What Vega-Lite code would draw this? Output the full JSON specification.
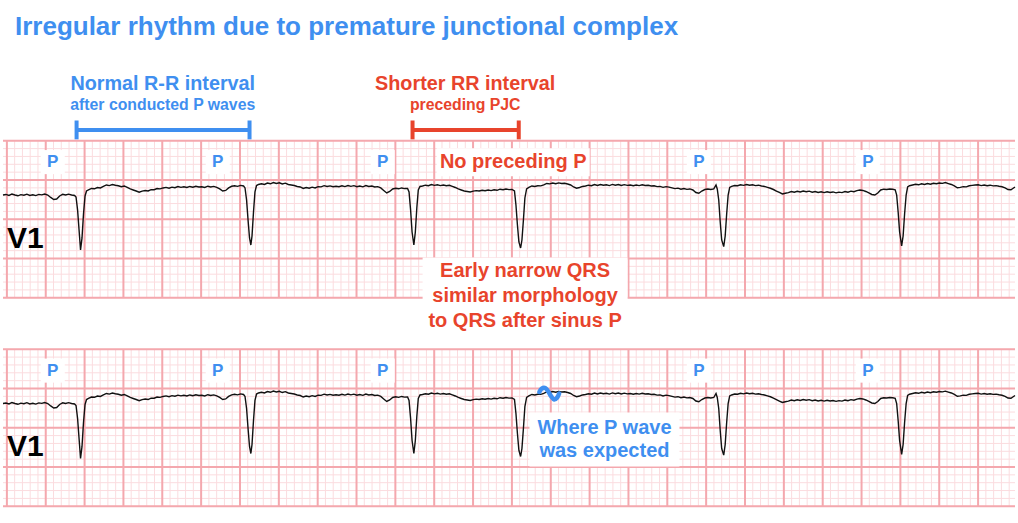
{
"$schema":"https://vega.github.io/schema/vega-lite/v6.json",
"width":1018,"height":523,
"autosize":{"type":"fit","contains":"padding"},
"padding":0,
"background":"white",
"config":{"view":{"stroke":null}},
"datasets":{
"vx":[{"x":0},{"x":1},{"x":2},{"x":3},{"x":4},{"x":5},{"x":6},{"x":7},{"x":8},{"x":9},{"x":10},{"x":11},{"x":12},{"x":13},{"x":14},{"x":15},{"x":16},{"x":17},{"x":18},{"x":19},{"x":20},{"x":21},{"x":22},{"x":23},{"x":24},{"x":25},{"x":26},{"x":27},{"x":28},{"x":29},{"x":30},{"x":31},{"x":32},{"x":33},{"x":34},{"x":35},{"x":36},{"x":37},{"x":38},{"x":39},{"x":40},{"x":41},{"x":42},{"x":43},{"x":44},{"x":45},{"x":46},{"x":47},{"x":48},{"x":49},{"x":50},{"x":51},{"x":52},{"x":53},{"x":54},{"x":55},{"x":56},{"x":57},{"x":58},{"x":59},{"x":60},{"x":61},{"x":62},{"x":63},{"x":64},{"x":65},{"x":66},{"x":67},{"x":68},{"x":69},{"x":70},{"x":71},{"x":72},{"x":73},{"x":74},{"x":75},{"x":76},{"x":77},{"x":78},{"x":79},{"x":80},{"x":81},{"x":82},{"x":83},{"x":84},{"x":85},{"x":86},{"x":87},{"x":88},{"x":89},{"x":90},{"x":91},{"x":92},{"x":93},{"x":94},{"x":95},{"x":96},{"x":97},{"x":98},{"x":99},{"x":100},{"x":101},{"x":102},{"x":103},{"x":104},{"x":105},{"x":106},{"x":107},{"x":108},{"x":109},{"x":110},{"x":111},{"x":112},{"x":113},{"x":114},{"x":115},{"x":116},{"x":117},{"x":118},{"x":119},{"x":120},{"x":121},{"x":122},{"x":123},{"x":124},{"x":125},{"x":126},{"x":127},{"x":128},{"x":129}],
"hy":[{"y":0},{"y":1},{"y":2},{"y":3},{"y":4},{"y":5},{"y":6},{"y":7},{"y":8},{"y":9},{"y":10},{"y":11},{"y":12},{"y":13},{"y":14},{"y":15},{"y":16},{"y":17},{"y":18},{"y":19},{"y":20}],
"ps":[{"x":5.90,"y":2.72,"label":"P"},{"x":27.14,"y":2.72,"label":"P"},{"x":48.37,"y":2.72,"label":"P"},{"x":89.06,"y":2.72,"label":"P"},{"x":110.81,"y":2.72,"label":"P"}],
"brackets":[{"grp":"normal","x":8.97,"x2":31.23},{"grp":"pjc","x":52.21,"x2":65.88}],
"ecg":[{"x":-0.5,"v":-0.115},{"x":-0.12,"v":-0.108},{"x":0.27,"v":-0.121},{"x":0.65,"v":-0.102},{"x":1.04,"v":-0.115},{"x":1.42,"v":-0.125},{"x":1.80,"v":-0.110},{"x":2.19,"v":-0.117},{"x":2.57,"v":-0.104},{"x":2.95,"v":-0.120},{"x":3.34,"v":-0.112},{"x":3.72,"v":-0.122},{"x":4.11,"v":-0.107},{"x":4.49,"v":-0.113},{"x":4.87,"v":-0.102},{"x":5.26,"v":-0.115},{"x":5.64,"v":-0.146},{"x":6.03,"v":-0.172},{"x":6.41,"v":-0.166},{"x":6.79,"v":-0.127},{"x":7.18,"v":-0.106},{"x":7.56,"v":-0.115},{"x":7.94,"v":-0.104},{"x":8.33,"v":-0.115},{"x":8.71,"v":-0.121},{"x":8.90,"v":-0.140},{"x":9.10,"v":-0.306},{"x":9.29,"v":-0.561},{"x":9.48,"v":-0.815},{"x":9.67,"v":-0.662},{"x":9.86,"v":-0.357},{"x":10.06,"v":-0.127},{"x":10.25,"v":-0.064},{"x":10.50,"v":-0.051},{"x":10.89,"v":-0.032},{"x":11.27,"v":-0.036},{"x":11.65,"v":-0.020},{"x":12.04,"v":-0.025},{"x":12.42,"v":-0.006},{"x":12.81,"v":0.013},{"x":13.19,"v":0.005},{"x":13.57,"v":0.019},{"x":13.96,"v":0.010},{"x":14.34,"v":0.003},{"x":14.73,"v":-0.010},{"x":15.11,"v":0},{"x":15.49,"v":-0.019},{"x":15.88,"v":-0.038},{"x":16.26,"v":-0.051},{"x":16.64,"v":-0.064},{"x":17.03,"v":-0.080},{"x":17.41,"v":-0.066},{"x":17.80,"v":-0.057},{"x":18.18,"v":-0.064},{"x":18.56,"v":-0.046},{"x":18.95,"v":-0.048},{"x":19.33,"v":-0.032},{"x":19.72,"v":-0.037},{"x":20.10,"v":-0.025},{"x":20.48,"v":-0.018},{"x":20.87,"v":-0.029},{"x":21.25,"v":-0.015},{"x":21.63,"v":-0.022},{"x":22.02,"v":-0.008},{"x":22.40,"v":-0.018},{"x":22.79,"v":-0.010},{"x":23.17,"v":-0.019},{"x":23.55,"v":-0.006},{"x":23.94,"v":-0.015},{"x":24.32,"v":-0.004},{"x":24.71,"v":-0.013},{"x":25.09,"v":-0.010},{"x":25.47,"v":-0.019},{"x":25.86,"v":-0.003},{"x":26.24,"v":-0.013},{"x":26.62,"v":-0.005},{"x":27.01,"v":-0.018},{"x":27.39,"v":-0.038},{"x":27.78,"v":-0.064},{"x":28.16,"v":-0.057},{"x":28.54,"v":-0.025},{"x":28.93,"v":-0.004},{"x":29.31,"v":0.003},{"x":29.69,"v":-0.005},{"x":30.08,"v":0.008},{"x":30.46,"v":0},{"x":30.65,"v":-0.025},{"x":30.85,"v":-0.178},{"x":31.04,"v":-0.433},{"x":31.23,"v":-0.662},{"x":31.40,"v":-0.752},{"x":31.55,"v":-0.637},{"x":31.74,"v":-0.331},{"x":31.93,"v":-0.076},{"x":32.13,"v":0.006},{"x":32.38,"v":0.019},{"x":32.77,"v":0.028},{"x":33.15,"v":0.020},{"x":33.53,"v":0.038},{"x":33.92,"v":0.028},{"x":34.30,"v":0.043},{"x":34.68,"v":0.032},{"x":35.07,"v":0.041},{"x":35.45,"v":0.025},{"x":35.84,"v":0.036},{"x":36.22,"v":0.019},{"x":36.60,"v":0.013},{"x":36.99,"v":0.006},{"x":37.37,"v":-0.006},{"x":37.76,"v":-0.013},{"x":38.14,"v":-0.032},{"x":38.52,"v":-0.019},{"x":38.91,"v":-0.029},{"x":39.29,"v":-0.015},{"x":39.67,"v":-0.025},{"x":40.06,"v":-0.008},{"x":40.44,"v":-0.011},{"x":40.83,"v":0.004},{"x":41.21,"v":-0.006},{"x":41.59,"v":0.001},{"x":41.98,"v":-0.010},{"x":42.36,"v":-0.003},{"x":42.74,"v":-0.010},{"x":43.13,"v":0.003},{"x":43.51,"v":-0.008},{"x":43.90,"v":0.006},{"x":44.28,"v":-0.005},{"x":44.66,"v":0.004},{"x":45.05,"v":-0.010},{"x":45.43,"v":0},{"x":45.82,"v":-0.011},{"x":46.20,"v":0.005},{"x":46.58,"v":-0.006},{"x":46.97,"v":0},{"x":47.35,"v":-0.013},{"x":47.73,"v":-0.008},{"x":48.12,"v":-0.025},{"x":48.50,"v":-0.057},{"x":48.89,"v":-0.089},{"x":49.27,"v":-0.070},{"x":49.65,"v":-0.038},{"x":50.04,"v":-0.029},{"x":50.42,"v":-0.036},{"x":50.81,"v":-0.025},{"x":51.19,"v":-0.033},{"x":51.57,"v":-0.032},{"x":51.76,"v":-0.076},{"x":51.96,"v":-0.306},{"x":52.15,"v":-0.586},{"x":52.38,"v":-0.752},{"x":52.57,"v":-0.586},{"x":52.76,"v":-0.280},{"x":52.95,"v":-0.051},{"x":53.17,"v":-0.006},{"x":53.49,"v":0},{"x":53.88,"v":0.010},{"x":54.26,"v":0.003},{"x":54.64,"v":0.018},{"x":55.03,"v":0.008},{"x":55.41,"v":0.015},{"x":55.79,"v":0.005},{"x":56.18,"v":0.013},{"x":56.56,"v":0.003},{"x":56.95,"v":0.009},{"x":57.33,"v":-0.005},{"x":57.71,"v":-0.019},{"x":58.10,"v":-0.038},{"x":58.48,"v":-0.051},{"x":58.87,"v":-0.064},{"x":59.25,"v":-0.070},{"x":59.63,"v":-0.076},{"x":60.02,"v":-0.066},{"x":60.40,"v":-0.059},{"x":60.78,"v":-0.064},{"x":61.17,"v":-0.054},{"x":61.55,"v":-0.061},{"x":61.94,"v":-0.051},{"x":62.32,"v":-0.059},{"x":62.70,"v":-0.048},{"x":63.09,"v":-0.055},{"x":63.47,"v":-0.041},{"x":63.86,"v":-0.048},{"x":64.24,"v":-0.038},{"x":64.62,"v":-0.046},{"x":65.01,"v":-0.045},{"x":65.33,"v":-0.064},{"x":65.52,"v":-0.242},{"x":65.71,"v":-0.497},{"x":65.90,"v":-0.713},{"x":66.12,"v":-0.790},{"x":66.29,"v":-0.688},{"x":66.48,"v":-0.433},{"x":66.67,"v":-0.153},{"x":66.89,"v":-0.038},{"x":67.18,"v":-0.019},{"x":67.57,"v":0},{"x":67.95,"v":-0.006},{"x":68.33,"v":0.003},{"x":68.72,"v":0.001},{"x":69.10,"v":0.013},{"x":69.48,"v":0.032},{"x":69.87,"v":0.027},{"x":70.25,"v":0.038},{"x":70.64,"v":0.028},{"x":71.02,"v":0.039},{"x":71.40,"v":0.031},{"x":71.79,"v":0.034},{"x":72.17,"v":0.025},{"x":72.56,"v":0.013},{"x":72.94,"v":-0.013},{"x":73.32,"v":-0.029},{"x":73.71,"v":-0.019},{"x":74.09,"v":-0.006},{"x":74.47,"v":0},{"x":74.86,"v":0.010},{"x":75.24,"v":0.003},{"x":75.63,"v":0.018},{"x":76.01,"v":0.006},{"x":76.39,"v":0.019},{"x":76.78,"v":0.009},{"x":77.16,"v":0.015},{"x":77.55,"v":0.005},{"x":77.93,"v":0.020},{"x":78.31,"v":0.010},{"x":78.70,"v":0.018},{"x":79.08,"v":0.006},{"x":79.46,"v":0.017},{"x":79.85,"v":0.008},{"x":80.23,"v":0.013},{"x":80.62,"v":0.003},{"x":81.00,"v":0.013},{"x":81.38,"v":0.005},{"x":81.77,"v":0.015},{"x":82.15,"v":0.006},{"x":82.54,"v":0.009},{"x":82.92,"v":0},{"x":83.30,"v":0.003},{"x":83.69,"v":-0.008},{"x":84.07,"v":-0.005},{"x":84.45,"v":-0.018},{"x":84.84,"v":-0.008},{"x":85.22,"v":-0.015},{"x":85.61,"v":-0.024},{"x":85.99,"v":-0.033},{"x":86.37,"v":-0.028},{"x":86.76,"v":-0.041},{"x":87.14,"v":-0.032},{"x":87.52,"v":-0.043},{"x":87.91,"v":-0.038},{"x":88.29,"v":-0.051},{"x":88.68,"v":-0.083},{"x":89.06,"v":-0.093},{"x":89.44,"v":-0.064},{"x":89.83,"v":-0.045},{"x":90.21,"v":-0.038},{"x":90.60,"v":-0.045},{"x":90.98,"v":-0.038},{"x":91.27,"v":0.013},{"x":91.43,"v":-0.038},{"x":91.62,"v":-0.178},{"x":91.81,"v":-0.459},{"x":92.00,"v":-0.688},{"x":92.26,"v":-0.773},{"x":92.45,"v":-0.637},{"x":92.64,"v":-0.357},{"x":92.83,"v":-0.115},{"x":93.03,"v":-0.019},{"x":93.28,"v":-0.006},{"x":93.67,"v":0.006},{"x":94.05,"v":0.003},{"x":94.43,"v":0.015},{"x":94.82,"v":0.008},{"x":95.20,"v":0.019},{"x":95.59,"v":0.010},{"x":95.97,"v":0.015},{"x":96.35,"v":0.005},{"x":96.74,"v":0.010},{"x":97.12,"v":0},{"x":97.50,"v":-0.006},{"x":97.89,"v":-0.018},{"x":98.27,"v":-0.029},{"x":98.66,"v":-0.045},{"x":99.04,"v":-0.064},{"x":99.42,"v":-0.083},{"x":99.81,"v":-0.102},{"x":100.19,"v":-0.092},{"x":100.58,"v":-0.084},{"x":100.96,"v":-0.070},{"x":101.34,"v":-0.080},{"x":101.73,"v":-0.068},{"x":102.11,"v":-0.076},{"x":102.49,"v":-0.064},{"x":102.88,"v":-0.074},{"x":103.26,"v":-0.066},{"x":103.65,"v":-0.079},{"x":104.03,"v":-0.070},{"x":104.41,"v":-0.082},{"x":104.80,"v":-0.074},{"x":105.18,"v":-0.084},{"x":105.56,"v":-0.073},{"x":105.95,"v":-0.083},{"x":106.33,"v":-0.076},{"x":106.72,"v":-0.087},{"x":107.10,"v":-0.078},{"x":107.48,"v":-0.084},{"x":107.87,"v":-0.071},{"x":108.25,"v":-0.079},{"x":108.64,"v":-0.066},{"x":109.02,"v":-0.073},{"x":109.40,"v":-0.059},{"x":109.79,"v":-0.051},{"x":110.17,"v":-0.057},{"x":110.55,"v":-0.070},{"x":110.94,"v":-0.089},{"x":111.32,"v":-0.108},{"x":111.71,"v":-0.115},{"x":112.09,"v":-0.089},{"x":112.47,"v":-0.051},{"x":112.86,"v":-0.041},{"x":113.24,"v":-0.045},{"x":113.63,"v":-0.038},{"x":114.01,"v":-0.042},{"x":114.33,"v":-0.048},{"x":114.52,"v":-0.115},{"x":114.71,"v":-0.331},{"x":114.90,"v":-0.586},{"x":115.16,"v":-0.764},{"x":115.35,"v":-0.637},{"x":115.54,"v":-0.357},{"x":115.74,"v":-0.115},{"x":115.93,"v":-0.013},{"x":116.18,"v":0.003},{"x":116.57,"v":0.013},{"x":116.95,"v":0.022},{"x":117.34,"v":0.015},{"x":117.72,"v":0.028},{"x":118.10,"v":0.019},{"x":118.49,"v":0.031},{"x":118.87,"v":0.023},{"x":119.25,"v":0.034},{"x":119.64,"v":0.028},{"x":120.02,"v":0.038},{"x":120.41,"v":0.033},{"x":120.79,"v":0.043},{"x":121.17,"v":0.031},{"x":121.56,"v":0.019},{"x":121.94,"v":0},{"x":122.33,"v":-0.023},{"x":122.71,"v":-0.018},{"x":123.09,"v":-0.008},{"x":123.48,"v":-0.011},{"x":123.86,"v":0.003},{"x":124.24,"v":0.008},{"x":124.63,"v":0.013},{"x":125.01,"v":0.015},{"x":125.40,"v":0.005},{"x":125.78,"v":0.013},{"x":126.16,"v":0.003},{"x":126.55,"v":0.010},{"x":126.93,"v":0.001},{"x":127.32,"v":0.005},{"x":127.70,"v":-0.003},{"x":128.08,"v":-0.010},{"x":128.47,"v":-0.023},{"x":128.85,"v":-0.045},{"x":129.23,"v":-0.048},{"x":129.75,"v":-0.013}],
"squiggle":[{"x":68.53,"v":0.032},{"x":68.84,"v":0.076},{"x":69.29,"v":0.083},{"x":69.68,"v":0.038},{"x":70.06,"v":-0.025},{"x":70.44,"v":-0.064},{"x":70.83,"v":-0.038},{"x":71.08,"v":0.013}]
},
"resolve":{"scale":{"y":"independent"}},
"layer":[
{
"layer":[
{"data":{"name":"vx"},"mark":{"type":"rule","color":"#fbdcdf","strokeWidth":1},"encoding":{"x":{"field":"x","type":"quantitative","scale":{"domain":[-0.5,129.75],"nice":false,"zero":false},"axis":null},"y":{"datum":0,"type":"quantitative","scale":{"domain":[-17.93,48.694],"reverse":true,"nice":false,"zero":false},"axis":null},"y2":{"datum":20}}},
{"data":{"name":"hy"},"mark":{"type":"rule","color":"#fbdcdf","strokeWidth":1},"encoding":{"y":{"field":"y","type":"quantitative","scale":{"domain":[-17.93,48.694],"reverse":true,"nice":false,"zero":false},"axis":null},"x":{"datum":-0.5,"type":"quantitative","scale":{"domain":[-0.5,129.75],"nice":false,"zero":false},"axis":null},"x2":{"datum":129.75}}},
{"data":{"name":"vx"},"transform":[{"filter":"datum.x % 5 == 0"}],"mark":{"type":"rule","color":"#f4a8ae","strokeWidth":2},"encoding":{"x":{"field":"x","type":"quantitative","scale":{"domain":[-0.5,129.75],"nice":false,"zero":false},"axis":null},"y":{"datum":0,"type":"quantitative","scale":{"domain":[-17.93,48.694],"reverse":true,"nice":false,"zero":false},"axis":null},"y2":{"datum":20}}},
{"data":{"name":"hy"},"transform":[{"filter":"datum.y % 5 == 0"}],"mark":{"type":"rule","color":"#f4a8ae","strokeWidth":2},"encoding":{"y":{"field":"y","type":"quantitative","scale":{"domain":[-17.93,48.694],"reverse":true,"nice":false,"zero":false},"axis":null},"x":{"datum":-0.5,"type":"quantitative","scale":{"domain":[-0.5,129.75],"nice":false,"zero":false},"axis":null},"x2":{"datum":129.75}}},
{"data":{"name":"brackets"},"mark":{"type":"rule","strokeWidth":4},"encoding":{"x":{"field":"x","type":"quantitative","scale":{"domain":[-0.5,129.75],"nice":false,"zero":false},"axis":null},"x2":{"field":"x2"},"y":{"datum":-1.37,"type":"quantitative","scale":{"domain":[-17.93,48.694],"reverse":true,"nice":false,"zero":false},"axis":null},"color":{"field":"grp","type":"nominal","scale":{"domain":["normal","pjc"],"range":["#3f8ff0","#e8442c"]},"legend":null}}},
{"data":{"name":"brackets"},"transform":[{"fold":["x","x2"],"as":["end","xe"]}],"mark":{"type":"rule","strokeWidth":4},"encoding":{"x":{"field":"xe","type":"quantitative","scale":{"domain":[-0.5,129.75],"nice":false,"zero":false},"axis":null},"y":{"datum":-2.58,"type":"quantitative","scale":{"domain":[-17.93,48.694],"reverse":true,"nice":false,"zero":false},"axis":null},"y2":{"datum":-0.18},"color":{"field":"grp","type":"nominal","scale":{"domain":["normal","pjc"],"range":["#3f8ff0","#e8442c"]},"legend":null}}},
{"data":{"values":[{"x":1.04,"y":-14.43,"label":"Irregular rhythm due to premature junctional complex"}]},"mark":{"type":"text","align":"left","baseline":"middle","font":"Liberation Sans","fontWeight":"bold","fontSize":26,"color":"#3f8ff0"},"encoding":{"x":{"field":"x","type":"quantitative","scale":{"domain":[-0.5,129.75],"nice":false,"zero":false},"axis":null},"y":{"field":"y","type":"quantitative","scale":{"domain":[-17.93,48.694],"reverse":true,"nice":false,"zero":false},"axis":null},"text":{"field":"label"}}},
{"data":{"values":[{"x":20.06,"y":-7.17,"label":"Normal R-R interval","grp":"normal","lvl":"main"},{"x":20.06,"y":-4.55,"label":"after conducted P waves","grp":"normal","lvl":"sub"},{"x":58.99,"y":-7.17,"label":"Shorter RR interval","grp":"pjc","lvl":"main"},{"x":58.99,"y":-4.55,"label":"preceding PJC","grp":"pjc","lvl":"sub"}]},"mark":{"type":"text","align":"center","baseline":"middle","font":"Liberation Sans","fontWeight":"bold"},"encoding":{"x":{"field":"x","type":"quantitative","scale":{"domain":[-0.5,129.75],"nice":false,"zero":false},"axis":null},"y":{"field":"y","type":"quantitative","scale":{"domain":[-17.93,48.694],"reverse":true,"nice":false,"zero":false},"axis":null},"text":{"field":"label"},"color":{"field":"grp","type":"nominal","scale":{"domain":["normal","pjc"],"range":["#3f8ff0","#e8442c"]},"legend":null},"size":{"field":"lvl","type":"ordinal","scale":{"domain":["main","sub"],"range":[19.8,15.8]},"legend":null}}},
{"data":{"name":"ps"},"mark":{"type":"point","shape":"square","filled":true,"color":"white","opacity":1,"size":580,"strokeWidth":0},"encoding":{"x":{"field":"x","type":"quantitative","scale":{"domain":[-0.5,129.75],"nice":false,"zero":false},"axis":null},"y":{"field":"y","type":"quantitative","scale":{"domain":[-17.93,48.694],"reverse":true,"nice":false,"zero":false},"axis":null}}},
{"data":{"name":"ps"},"mark":{"type":"text","align":"center","baseline":"middle","font":"Liberation Sans","fontWeight":"bold","fontSize":17,"color":"#3f8ff0"},"encoding":{"x":{"field":"x","type":"quantitative","scale":{"domain":[-0.5,129.75],"nice":false,"zero":false},"axis":null},"y":{"field":"y","type":"quantitative","scale":{"domain":[-17.93,48.694],"reverse":true,"nice":false,"zero":false},"axis":null},"text":{"field":"label"}}},
{"data":{"values":[{"x":65.17,"y":2.74,"label":"No preceding P"}]},"layer":[
{"mark":{"type":"rect","color":"white","width":153,"height":28},"encoding":{"x":{"field":"x","type":"quantitative","scale":{"domain":[-0.5,129.75],"nice":false,"zero":false},"axis":null},"y":{"field":"y","type":"quantitative","scale":{"domain":[-17.93,48.694],"reverse":true,"nice":false,"zero":false},"axis":null}}},
{"mark":{"type":"text","align":"center","baseline":"middle","font":"Liberation Sans","fontWeight":"bold","fontSize":20,"color":"#e8442c"},"encoding":{"x":{"field":"x","type":"quantitative","scale":{"domain":[-0.5,129.75],"nice":false,"zero":false},"axis":null},"y":{"field":"y","type":"quantitative","scale":{"domain":[-17.93,48.694],"reverse":true,"nice":false,"zero":false},"axis":null},"text":{"field":"label"}}}
]},
{"data":{"values":[{"x":66.7,"y":19.72,"label":"Early narrow QRS\nsimilar morphology\nto QRS after sinus P"}]},"layer":[
{"mark":{"type":"rect","color":"white","width":205,"height":76},"encoding":{"x":{"field":"x","type":"quantitative","scale":{"domain":[-0.5,129.75],"nice":false,"zero":false},"axis":null},"y":{"field":"y","type":"quantitative","scale":{"domain":[-17.93,48.694],"reverse":true,"nice":false,"zero":false},"axis":null}}},
{"mark":{"type":"text","align":"center","baseline":"middle","font":"Liberation Sans","fontWeight":"bold","fontSize":20,"lineHeight":25,"lineBreak":"\n","dy":-25,"color":"#e8442c"},"encoding":{"x":{"field":"x","type":"quantitative","scale":{"domain":[-0.5,129.75],"nice":false,"zero":false},"axis":null},"y":{"field":"y","type":"quantitative","scale":{"domain":[-17.93,48.694],"reverse":true,"nice":false,"zero":false},"axis":null},"text":{"field":"label"}}}
]},
{"data":{"values":[{"x":0.0,"y":12.47,"label":"V1"}]},"mark":{"type":"text","align":"left","baseline":"middle","font":"Liberation Sans","fontWeight":"bold","fontSize":30,"color":"black"},"encoding":{"x":{"field":"x","type":"quantitative","scale":{"domain":[-0.5,129.75],"nice":false,"zero":false},"axis":null},"y":{"field":"y","type":"quantitative","scale":{"domain":[-17.93,48.694],"reverse":true,"nice":false,"zero":false},"axis":null},"text":{"field":"label"}}}
]
},
{"data":{"name":"ecg"},"mark":{"type":"line","color":"#111111","strokeWidth":1.4},"encoding":{"x":{"field":"x","type":"quantitative","scale":{"domain":[-0.5,129.75],"nice":false,"zero":false},"axis":null},"y":{"field":"v","type":"quantitative","scale":{"domain":[-4.293,2.369],"nice":false,"zero":false},"axis":null}}},
{
"layer":[
{"data":{"name":"vx"},"mark":{"type":"rule","color":"#fbdcdf","strokeWidth":1},"encoding":{"x":{"field":"x","type":"quantitative","scale":{"domain":[-0.5,129.75],"nice":false,"zero":false},"axis":null},"y":{"datum":0,"type":"quantitative","scale":{"domain":[-44.49,22.134],"reverse":true,"nice":false,"zero":false},"axis":null},"y2":{"datum":20}}},
{"data":{"name":"hy"},"mark":{"type":"rule","color":"#fbdcdf","strokeWidth":1},"encoding":{"y":{"field":"y","type":"quantitative","scale":{"domain":[-44.49,22.134],"reverse":true,"nice":false,"zero":false},"axis":null},"x":{"datum":-0.5,"type":"quantitative","scale":{"domain":[-0.5,129.75],"nice":false,"zero":false},"axis":null},"x2":{"datum":129.75}}},
{"data":{"name":"vx"},"transform":[{"filter":"datum.x % 5 == 0"}],"mark":{"type":"rule","color":"#f4a8ae","strokeWidth":2},"encoding":{"x":{"field":"x","type":"quantitative","scale":{"domain":[-0.5,129.75],"nice":false,"zero":false},"axis":null},"y":{"datum":0,"type":"quantitative","scale":{"domain":[-44.49,22.134],"reverse":true,"nice":false,"zero":false},"axis":null},"y2":{"datum":20}}},
{"data":{"name":"hy"},"transform":[{"filter":"datum.y % 5 == 0"}],"mark":{"type":"rule","color":"#f4a8ae","strokeWidth":2},"encoding":{"y":{"field":"y","type":"quantitative","scale":{"domain":[-44.49,22.134],"reverse":true,"nice":false,"zero":false},"axis":null},"x":{"datum":-0.5,"type":"quantitative","scale":{"domain":[-0.5,129.75],"nice":false,"zero":false},"axis":null},"x2":{"datum":129.75}}},
{"data":{"name":"ps"},"mark":{"type":"point","shape":"square","filled":true,"color":"white","opacity":1,"size":580,"strokeWidth":0},"encoding":{"x":{"field":"x","type":"quantitative","scale":{"domain":[-0.5,129.75],"nice":false,"zero":false},"axis":null},"y":{"field":"y","type":"quantitative","scale":{"domain":[-44.49,22.134],"reverse":true,"nice":false,"zero":false},"axis":null}}},
{"data":{"name":"ps"},"mark":{"type":"text","align":"center","baseline":"middle","font":"Liberation Sans","fontWeight":"bold","fontSize":17,"color":"#3f8ff0"},"encoding":{"x":{"field":"x","type":"quantitative","scale":{"domain":[-0.5,129.75],"nice":false,"zero":false},"axis":null},"y":{"field":"y","type":"quantitative","scale":{"domain":[-44.49,22.134],"reverse":true,"nice":false,"zero":false},"axis":null},"text":{"field":"label"}}},
{"data":{"values":[{"x":76.91,"y":11.5,"label":"Where P wave\nwas expected"}]},"layer":[
{"mark":{"type":"rect","color":"white","width":150,"height":54},"encoding":{"x":{"field":"x","type":"quantitative","scale":{"domain":[-0.5,129.75],"nice":false,"zero":false},"axis":null},"y":{"field":"y","type":"quantitative","scale":{"domain":[-44.49,22.134],"reverse":true,"nice":false,"zero":false},"axis":null}}},
{"mark":{"type":"text","align":"center","baseline":"middle","font":"Liberation Sans","fontWeight":"bold","fontSize":20,"lineHeight":23,"lineBreak":"\n","dy":-11.5,"color":"#3f8ff0"},"encoding":{"x":{"field":"x","type":"quantitative","scale":{"domain":[-0.5,129.75],"nice":false,"zero":false},"axis":null},"y":{"field":"y","type":"quantitative","scale":{"domain":[-44.49,22.134],"reverse":true,"nice":false,"zero":false},"axis":null},"text":{"field":"label"}}}
]},
{"data":{"values":[{"x":0.0,"y":12.47,"label":"V1"}]},"mark":{"type":"text","align":"left","baseline":"middle","font":"Liberation Sans","fontWeight":"bold","fontSize":30,"color":"black"},"encoding":{"x":{"field":"x","type":"quantitative","scale":{"domain":[-0.5,129.75],"nice":false,"zero":false},"axis":null},"y":{"field":"y","type":"quantitative","scale":{"domain":[-44.49,22.134],"reverse":true,"nice":false,"zero":false},"axis":null},"text":{"field":"label"}}}
]
},
{"data":{"name":"ecg"},"mark":{"type":"line","color":"#111111","strokeWidth":1.4},"encoding":{"x":{"field":"x","type":"quantitative","scale":{"domain":[-0.5,129.75],"nice":false,"zero":false},"axis":null},"y":{"field":"v","type":"quantitative","scale":{"domain":[-1.637,5.025],"nice":false,"zero":false},"axis":null}}},
{"data":{"name":"squiggle"},"mark":{"type":"line","color":"#3f8ff0","strokeWidth":4.5,"strokeCap":"round","interpolate":"cardinal"},"encoding":{"x":{"field":"x","type":"quantitative","scale":{"domain":[-0.5,129.75],"nice":false,"zero":false},"axis":null},"y":{"field":"v","type":"quantitative","scale":{"domain":[-1.637,5.025],"nice":false,"zero":false},"axis":null}}}
]
}
